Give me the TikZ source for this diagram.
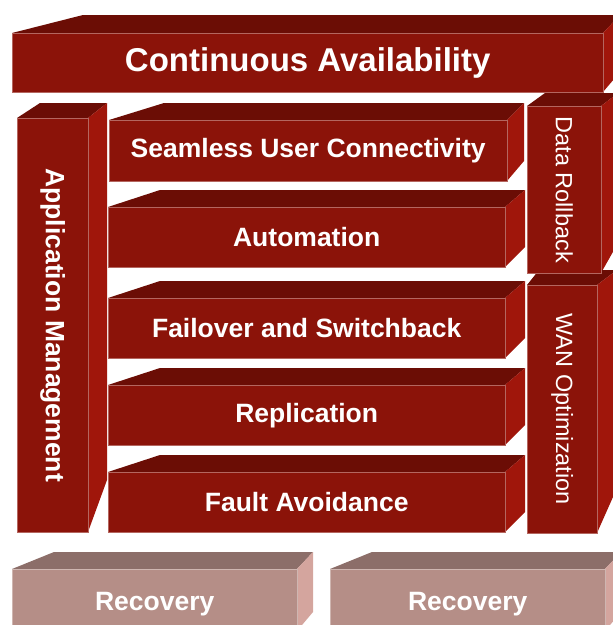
\documentclass[tikz,border=0pt]{standalone}
\usepackage{fontspec}
\setmainfont{Liberation Sans}
\usetikzlibrary{calc}

\definecolor{front}{HTML}{8B1309}
\definecolor{topside}{HTML}{6B0D05}
\definecolor{rightside}{HTML}{A0160B}
\definecolor{recfront}{HTML}{B58E87}
\definecolor{rectop}{HTML}{8C6E69}
\definecolor{recright}{HTML}{D4A59E}

\begin{document}
\begin{tikzpicture}[x=1pt,y=-1pt]
\useasboundingbox (0,0) rectangle (613,625);
\clip (0,0) rectangle (613,625);

% top and right faces of each block
\foreach \n/\x/\y/\w/\h/\a/\b/\t/\c/\tc/\rc in {avail/12/33/591/59/71/17/18/20/topside/rightside,
    appman/17/118/71/414/23/19/15/52/topside/rightside, seamless/109/120/398/61/55/17/17/20/topside/rightside,
    auto/108/207/397/60/52/20/17/20/topside/rightside, failover/108/298/397/60/52/20/17/20/topside/rightside,
    repl/108/385/397/60/52/20/17/20/topside/rightside, fault/108/472/397/60/52/20/17/20/topside/rightside,
    rollback/527/106/74/167/18/17/13/30/topside/rightside, wan/527/285/70/248/12/20/15/45/topside/rightside,
    rec1/12/569/285/62/42/16/17/19/rectop/recright, rec2/330/569/275/62/42/16/17/19/rectop/recright} {
  \fill[\tc] (\x,\y) -- ++(\a,-\t) -- ++(\w-\a+\b,0) -- ++(-\b,\t) -- cycle;
  \fill[\rc] (\x+\w,\y) -- ++(\b,-\t) -- ++(0,\h+\t-\c) -- ++(-\b,\c) -- cycle;
}

\begin{scope}[every node/.style={anchor=north west,inner sep=0pt,fill=front,draw=white!35!front,
    line width=0.4pt,text=white,font=\bfseries\fontsize{26.5}{30}\selectfont}]
  \node[minimum width=591pt,minimum height=59pt,font=\bfseries\fontsize{33}{36}\selectfont] (avail) at (12,33) {Continuous Availability};
  \node[minimum width=71pt,minimum height=414pt] (appman) at (17,118) {\rotatebox{-90}{Application Management}};
  \node[minimum width=398pt,minimum height=61pt] (seamless) at (109,120) {Seamless User Connectivity};
  \node[minimum width=397pt,minimum height=60pt] (auto) at (108,207) {Automation};
  \node[minimum width=397pt,minimum height=60pt] (failover) at (108,298) {Failover and Switchback};
  \node[minimum width=397pt,minimum height=60pt] (repl) at (108,385) {Replication};
  \node[minimum width=397pt,minimum height=60pt] (fault) at (108,472) {Fault Avoidance};
  \node[minimum width=74pt,minimum height=167pt,font=\fontsize{23.5}{26}\selectfont] (rollback) at (527,106) {\rotatebox{-90}{Data Rollback}};
  \node[minimum width=70pt,minimum height=248pt,font=\fontsize{23.5}{26}\selectfont] (wan) at (527,285) {\rotatebox{-90}{WAN Optimization}};
  \node[fill=recfront,draw=white!35!recfront,minimum width=285pt,minimum height=62pt] (rec1) at (12,569) {\raisebox{-4pt}[\height][\depth]{Recovery}};
  \node[fill=recfront,draw=white!35!recfront,minimum width=275pt,minimum height=62pt] (rec2) at (330,569) {\raisebox{-4pt}[\height][\depth]{Recovery}};
\end{scope}
\end{tikzpicture}
\end{document}
